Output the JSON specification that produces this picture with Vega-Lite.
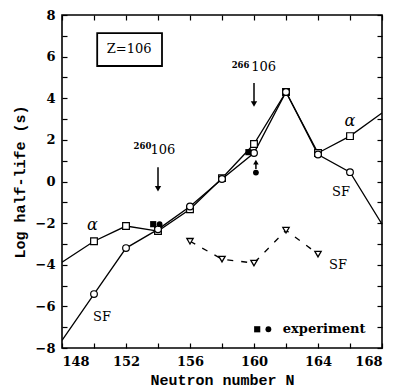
{
  "$schema": "https://vega.github.io/schema/vega-lite/v6.json",
  "width": 320,
  "height": 333,
  "autosize": "none",
  "padding": {"left": 62, "top": 15, "right": 15, "bottom": 44},
  "background": "white",
  "config": {
    "view": {"stroke": "black", "strokeWidth": 1.6},
    "axis": {
      "grid": false,
      "domain": false,
      "tickColor": "black",
      "tickSize": -5,
      "tickWidth": 1.2,
      "labelFont": "DejaVu Serif",
      "labelFontSize": 13,
      "labelFontWeight": "bold",
      "labelColor": "black",
      "titleFont": "Liberation Mono",
      "titleFontSize": 15,
      "titleFontWeight": "bold",
      "titleColor": "black"
    }
  },
  "datasets": {
    "curves": [
      {"series": "alpha", "N": 148, "v": -3.88},
      {"series": "alpha", "N": 150, "v": -2.87},
      {"series": "alpha", "N": 152, "v": -2.14},
      {"series": "alpha", "N": 154, "v": -2.38},
      {"series": "alpha", "N": 156, "v": -1.33},
      {"series": "alpha", "N": 158, "v": 0.16},
      {"series": "alpha", "N": 160, "v": 1.8},
      {"series": "alpha", "N": 162, "v": 4.3},
      {"series": "alpha", "N": 164, "v": 1.37},
      {"series": "alpha", "N": 166, "v": 2.18},
      {"series": "alpha", "N": 168, "v": 3.29},
      {"series": "SF", "N": 148, "v": -7.63},
      {"series": "SF", "N": 150, "v": -5.41},
      {"series": "SF", "N": 152, "v": -3.2},
      {"series": "SF", "N": 154, "v": -2.3},
      {"series": "SF", "N": 156, "v": -1.2},
      {"series": "SF", "N": 158, "v": 0.12},
      {"series": "SF", "N": 160, "v": 1.37},
      {"series": "SF", "N": 162, "v": 4.3},
      {"series": "SF", "N": 164, "v": 1.3},
      {"series": "SF", "N": 166, "v": 0.45},
      {"series": "SF", "N": 168, "v": -2.05},
      {"series": "SF2", "N": 156, "v": -2.87},
      {"series": "SF2", "N": 158, "v": -3.73},
      {"series": "SF2", "N": 160, "v": -3.92},
      {"series": "SF2", "N": 162, "v": -2.34},
      {"series": "SF2", "N": 164, "v": -3.49}
    ],
    "expSquares": [
      {"N": 153.7, "v": -2.05},
      {"N": 159.65, "v": 1.41},
      {"N": 160.2, "v": -7.1}
    ],
    "expCircles": [
      {"N": 154.1, "v": -2.05},
      {"N": 160.12, "v": 0.43},
      {"N": 160.9, "v": -7.1}
    ],
    "arrows": [
      {"N": 154, "top": 0.69, "bottom": -0.3},
      {"N": 160, "top": 4.73, "bottom": 3.75},
      {"N": 160.12, "top": 0.9, "bottom": 0.6}
    ],
    "headsDown": [
      {"N": 154, "v": -0.35},
      {"N": 160, "v": 3.72}
    ],
    "headsUp": [
      {"N": 160.12, "v": 0.93}
    ],
    "serifText": [
      {"N": 152.2, "v": 6.35, "label": "Z=106"},
      {"N": 154.31, "v": 1.51, "label": "106"},
      {"N": 160.6, "v": 5.5, "label": "106"},
      {"N": 150.5, "v": -6.52, "label": "SF"},
      {"N": 165.44, "v": -0.51, "label": "SF"},
      {"N": 165.25, "v": -4.0, "label": "SF"}
    ],
    "supText": [
      {"N": 153.03, "v": 1.7, "label": "260"},
      {"N": 159.16, "v": 5.6, "label": "266"}
    ],
    "alphaText": [
      {"N": 149.9, "v": -2.1, "label": "α"},
      {"N": 166, "v": 2.9, "label": "α"}
    ],
    "legendText": [
      {"N": 161.8, "v": -7.1, "label": "experiment"}
    ],
    "box": [
      {"x1": 150.2, "x2": 154.25, "y1": 7.13, "y2": 5.55}
    ]
  },
  "layer": [
    {
      "data": {"name": "curves"},
      "transform": [{"filter": "datum.series != 'SF2'"}],
      "mark": {"type": "line", "color": "black", "strokeWidth": 1.3, "clip": true},
      "encoding": {
        "x": {"field": "N", "type": "quantitative", "scale": {"domain": [148, 168], "nice": false, "zero": false},
          "axis": {"orient": "bottom", "values": [148,150,152,154,156,158,160,162,164,166,168], "labelExpr": "datum.value % 4 == 0 ? datum.label : ''", "labelPadding": 12, "title": "Neutron number N", "titlePadding": 4}},
        "y": {"field": "v", "type": "quantitative", "scale": {"domain": [-8, 8], "nice": false, "zero": false},
          "axis": {"orient": "left", "values": [-8,-7,-6,-5,-4,-3,-2,-1,0,1,2,3,4,5,6,7,8], "labelExpr": "datum.value % 2 == 0 ? datum.label : ''", "labelPadding": 12, "title": "Log half-life (s)", "titlePadding": 8}},
        "detail": {"field": "series"}
      }
    },
    {
      "data": {"name": "curves"},
      "transform": [{"filter": "datum.series == 'SF2'"}],
      "mark": {"type": "line", "color": "black", "strokeWidth": 1.3, "strokeDash": [6, 8]},
      "encoding": {
        "x": {"field": "N", "type": "quantitative",
          "axis": {"orient": "top", "values": [148,150,152,154,156,158,160,162,164,166,168], "labels": false, "title": null}},
        "y": {"field": "v", "type": "quantitative",
          "axis": {"orient": "right", "values": [-8,-7,-6,-5,-4,-3,-2,-1,0,1,2,3,4,5,6,7,8], "labels": false, "title": null}}
      }
    },
    {
      "data": {"name": "curves"},
      "transform": [{"filter": "datum.series == 'alpha' && datum.N > 148 && datum.N < 168"}],
      "mark": {"type": "point", "shape": "square", "size": 45, "filled": true, "fill": "white", "stroke": "black", "strokeWidth": 1.2, "opacity": 1},
      "encoding": {
        "x": {"field": "N", "type": "quantitative", "axis": null},
        "y": {"field": "v", "type": "quantitative", "axis": null}
      }
    },
    {
      "data": {"name": "curves"},
      "transform": [{"filter": "datum.series == 'SF' && datum.N > 148 && datum.N < 168"}],
      "mark": {"type": "point", "shape": "circle", "size": 45, "filled": true, "fill": "white", "stroke": "black", "strokeWidth": 1.2, "opacity": 1},
      "encoding": {
        "x": {"field": "N", "type": "quantitative", "axis": null},
        "y": {"field": "v", "type": "quantitative", "axis": null}
      }
    },
    {
      "data": {"name": "curves"},
      "transform": [{"filter": "datum.series == 'SF2'"}],
      "mark": {"type": "point", "shape": "triangle-down", "size": 40, "filled": true, "fill": "white", "stroke": "black", "strokeWidth": 1.3, "opacity": 1},
      "encoding": {
        "x": {"field": "N", "type": "quantitative", "axis": null},
        "y": {"field": "v", "type": "quantitative", "axis": null}
      }
    },
    {
      "data": {"name": "expSquares"},
      "mark": {"type": "point", "shape": "square", "size": 38, "filled": true, "color": "black", "opacity": 1},
      "encoding": {
        "x": {"field": "N", "type": "quantitative", "axis": null},
        "y": {"field": "v", "type": "quantitative", "axis": null}
      }
    },
    {
      "data": {"name": "expCircles"},
      "mark": {"type": "point", "shape": "circle", "size": 34, "filled": true, "color": "black", "opacity": 1},
      "encoding": {
        "x": {"field": "N", "type": "quantitative", "axis": null},
        "y": {"field": "v", "type": "quantitative", "axis": null}
      }
    },
    {
      "data": {"name": "arrows"},
      "mark": {"type": "rule", "color": "black", "strokeWidth": 1.5},
      "encoding": {
        "x": {"field": "N", "type": "quantitative", "axis": null},
        "y": {"field": "top", "type": "quantitative", "axis": null},
        "y2": {"field": "bottom"}
      }
    },
    {
      "data": {"name": "headsDown"},
      "mark": {"type": "point", "shape": "triangle-down", "size": 40, "filled": true, "color": "black", "opacity": 1},
      "encoding": {
        "x": {"field": "N", "type": "quantitative", "axis": null},
        "y": {"field": "v", "type": "quantitative", "axis": null}
      }
    },
    {
      "data": {"name": "headsUp"},
      "mark": {"type": "point", "shape": "triangle-up", "size": 30, "filled": true, "color": "black", "opacity": 1},
      "encoding": {
        "x": {"field": "N", "type": "quantitative", "axis": null},
        "y": {"field": "v", "type": "quantitative", "axis": null}
      }
    },
    {
      "data": {"name": "box"},
      "mark": {"type": "rect", "fill": null, "fillOpacity": 0, "stroke": "black", "strokeWidth": 1.8},
      "encoding": {
        "x": {"field": "x1", "type": "quantitative", "axis": null},
        "x2": {"field": "x2"},
        "y": {"field": "y1", "type": "quantitative", "axis": null},
        "y2": {"field": "y2"}
      }
    },
    {
      "data": {"name": "serifText"},
      "mark": {"type": "text", "font": "DejaVu Serif", "fontSize": 13, "color": "black", "align": "center", "baseline": "middle"},
      "encoding": {
        "x": {"field": "N", "type": "quantitative", "axis": null},
        "y": {"field": "v", "type": "quantitative", "axis": null},
        "text": {"field": "label"}
      }
    },
    {
      "data": {"name": "supText"},
      "mark": {"type": "text", "font": "DejaVu Serif", "fontSize": 8.5, "fontWeight": "bold", "color": "black", "align": "center", "baseline": "middle"},
      "encoding": {
        "x": {"field": "N", "type": "quantitative", "axis": null},
        "y": {"field": "v", "type": "quantitative", "axis": null},
        "text": {"field": "label"}
      }
    },
    {
      "data": {"name": "alphaText"},
      "mark": {"type": "text", "font": "DejaVu Serif", "fontSize": 16, "fontStyle": "italic", "color": "black", "align": "center", "baseline": "middle"},
      "encoding": {
        "x": {"field": "N", "type": "quantitative", "axis": null},
        "y": {"field": "v", "type": "quantitative", "axis": null},
        "text": {"field": "label"}
      }
    },
    {
      "data": {"name": "legendText"},
      "mark": {"type": "text", "font": "DejaVu Serif", "fontSize": 13, "fontWeight": "bold", "color": "black", "align": "left", "baseline": "middle"},
      "encoding": {
        "x": {"field": "N", "type": "quantitative", "axis": null},
        "y": {"field": "v", "type": "quantitative", "axis": null},
        "text": {"field": "label"}
      }
    }
  ],
  "resolve": {"axis": {"x": "independent", "y": "independent"}}
}
